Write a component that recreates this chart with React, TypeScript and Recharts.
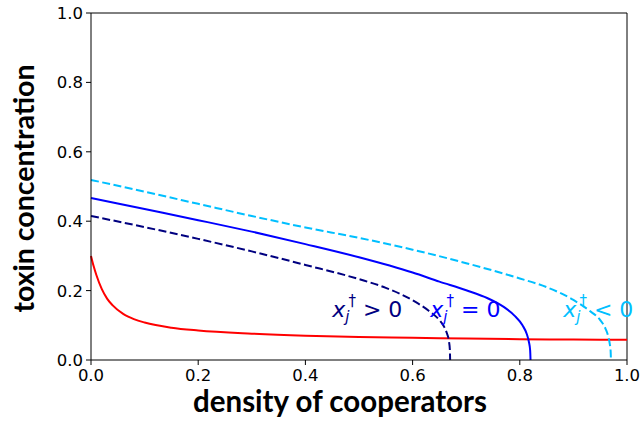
import React from 'react';
import { LineChart, Line, XAxis, YAxis, ReferenceLine, ReferenceDot, Label } from 'recharts';

interface Pt {
  x: number;
  y: number;
}

// x_j > 0 branch (navy, dashed)
const positiveX = [0, 0.1, 0.2, 0.3, 0.4, 0.5, 0.55, 0.6, 0.63, 0.65, 0.658, 0.664, 0.668, 0.6695, 0.67];
const positiveY = [0.415, 0.383, 0.349, 0.313, 0.274, 0.233, 0.208, 0.172, 0.142, 0.115, 0.098, 0.077, 0.052, 0.03, 0];

// x_j = 0 branch (blue, solid)
const zeroX = [0, 0.1, 0.2, 0.3, 0.4, 0.5, 0.6, 0.65, 0.7, 0.74, 0.77, 0.79, 0.805, 0.813, 0.817, 0.8193, 0.82];
const zeroY = [0.467, 0.435, 0.403, 0.37, 0.334, 0.296, 0.252, 0.226, 0.201, 0.178, 0.153, 0.128, 0.1, 0.075, 0.052, 0.028, 0];

// x_j < 0 branch (light blue, dashed)
const negativeX = [0, 0.1, 0.2, 0.3, 0.4, 0.5, 0.6, 0.7, 0.8, 0.85, 0.9, 0.93, 0.95, 0.96, 0.965, 0.968, 0.9695, 0.97];
const negativeY = [0.519, 0.485, 0.45, 0.415, 0.382, 0.352, 0.318, 0.279, 0.235, 0.21, 0.173, 0.142, 0.115, 0.09, 0.068, 0.045, 0.025, 0];

// toxin curve (red)
const redX = [0, 0.005, 0.01, 0.02, 0.03, 0.04, 0.06, 0.08, 0.1, 0.15, 0.2, 0.3, 0.4, 0.5, 0.6, 0.7, 0.8, 0.9, 1.0];
const redY = [0.3, 0.27, 0.245, 0.205, 0.177, 0.158, 0.133, 0.118, 0.108, 0.093, 0.085, 0.076, 0.07, 0.066, 0.064, 0.062, 0.06, 0.059, 0.058];

const ticks = [0, 0.2, 0.4, 0.6, 0.8, 1.0];

const toPts = (xs: number[], ys: number[]): Pt[] => xs.map((x, i) => ({ x, y: ys[i] }));

const XTick = ({ x, y, payload }: any) => (
  <text x={x} y={y + 13} textAnchor="middle" fontFamily="DejaVu Sans" fontSize={16.5} fill="#000">
    {payload.value.toFixed(1)}
  </text>
);

const YTick = ({ x, y, payload }: any) => (
  <text x={x + 1} y={y + 6} textAnchor="end" fontFamily="DejaVu Sans" fontSize={16.5} fill="#000">
    {payload.value.toFixed(1)}
  </text>
);

const MathLabel = (props: any) => {
  const { cx, cy, color, rel } = props;
  return (
    <text x={cx} y={cy} fill={color} fontFamily="DejaVu Sans" fontSize={22}>
      <tspan fontStyle="italic">x</tspan>
      <tspan fontStyle="italic" fontSize={15} dy={5}>j</tspan>
      <tspan fontSize={15} dx={-1} dy={-16}>†</tspan>
      <tspan dy={11}>{` ${rel} 0`}</tspan>
    </text>
  );
};

const App = () => {
  return (
    <div style={{ position: 'absolute', left: 0, top: 0, background: '#fff' }}>
      <LineChart width={642} height={423} margin={{ top: 13, right: 15, left: 0, bottom: 0 }}>
        <XAxis
          dataKey="x"
          type="number"
          domain={[0, 1]}
          ticks={ticks}
          height={63}
          stroke="#000"
          tickSize={5}
          tickMargin={3}
          tick={<XTick />}
          allowDuplicatedCategory={false}
        >
          <Label
            content={(p: any) => (
              <text
                x={p.viewBox.x + p.viewBox.width / 2 - 19}
                y={412}
                textAnchor="middle"
                fontFamily="Lato"
                fontWeight="bold"
                fontSize={29.5}
                fill="#000"
              >
                density of cooperators
              </text>
            )}
          />
        </XAxis>
        <YAxis
          dataKey="y"
          type="number"
          domain={[0, 1]}
          ticks={ticks}
          width={91}
          stroke="#000"
          tickSize={5}
          tickMargin={4}
          tick={<YTick />}
        >
          <Label
            content={(p: any) => (
              <text
                x={34}
                y={p.viewBox.y + p.viewBox.height / 2 + 2}
                transform={`rotate(-90 34 ${p.viewBox.y + p.viewBox.height / 2 + 2})`}
                textAnchor="middle"
                fontFamily="Lato"
                fontWeight="bold"
                fontSize={28.5}
                fill="#000"
              >
                toxin concentration
              </text>
            )}
          />
        </YAxis>
        <ReferenceLine y={1} stroke="#000" strokeWidth={1} />
        <ReferenceLine x={1} stroke="#000" strokeWidth={1} />
        <Line data={toPts(redX, redY)} dataKey="y" type="monotone" stroke="#ff0000" strokeWidth={2} dot={false} isAnimationActive={false} />
        <Line data={toPts(positiveX, positiveY)} dataKey="y" type="monotone" stroke="#000080" strokeWidth={2} strokeDasharray="8 3.5" dot={false} isAnimationActive={false} />
        <Line data={toPts(zeroX, zeroY)} dataKey="y" type="monotone" stroke="#0000ff" strokeWidth={2} dot={false} isAnimationActive={false} />
        <Line data={toPts(negativeX, negativeY)} dataKey="y" type="monotone" stroke="#00bfff" strokeWidth={2} strokeDasharray="8 3.5" dot={false} isAnimationActive={false} />
        <ReferenceDot x={0.45} y={0.124} r={0} shape={(p: any) => <MathLabel {...p} color="#000080" rel=">" />} />
        <ReferenceDot x={0.633} y={0.124} r={0} shape={(p: any) => <MathLabel {...p} color="#0000ff" rel="=" />} />
        <ReferenceDot x={0.881} y={0.124} r={0} shape={(p: any) => <MathLabel {...p} color="#00bfff" rel="<" />} />
      </LineChart>
    </div>
  );
};

export default App;
